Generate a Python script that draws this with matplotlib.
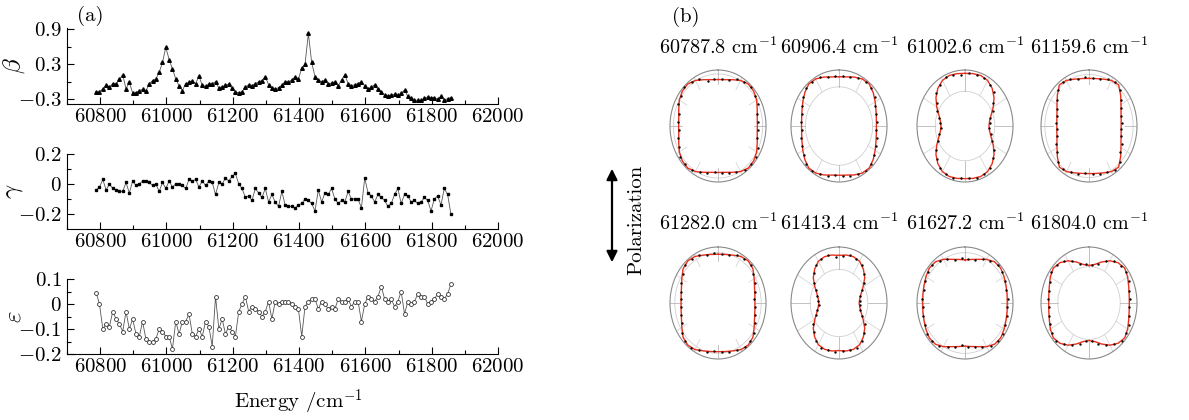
import numpy as np
import matplotlib
matplotlib.use("Agg")
import matplotlib.pyplot as plt
from matplotlib.patches import FancyArrowPatch

plt.rcParams['font.family'] = ['cmr10', 'DejaVu Serif']
plt.rcParams['mathtext.fontset'] = 'cm'
plt.rcParams['axes.formatter.use_mathtext'] = True

# ---- panel (a): anisotropy parameters vs energy ----
energy = [60788, 60798, 60808, 60818, 60828, 60838, 60848, 60858, 60868, 60878,
          60888, 60898, 60908, 60918, 60928, 60938, 60948, 60958, 60968, 60978,
          60988, 60998, 61008, 61018, 61028, 61038, 61048, 61058, 61068, 61078,
          61088, 61098, 61108, 61118, 61128, 61138, 61148, 61158, 61168, 61178,
          61188, 61198, 61208, 61218, 61228, 61238, 61248, 61258, 61268, 61278,
          61288, 61298, 61308, 61318, 61328, 61338, 61348, 61358, 61368, 61378,
          61388, 61398, 61408, 61418, 61428, 61438, 61448, 61458, 61468, 61478,
          61488, 61498, 61508, 61518, 61528, 61538, 61548, 61558, 61568, 61578,
          61588, 61598, 61608, 61618, 61628, 61638, 61648, 61658, 61668, 61678,
          61688, 61698, 61708, 61718, 61728, 61738, 61748, 61758, 61768, 61778,
          61788, 61798, 61808, 61818, 61828, 61838, 61848, 61858]

beta = [-0.18, -0.17, -0.12, -0.06, -0.09, -0.03, -0.04, 0.04, 0.12, -0.12,
        -0.01, -0.19, -0.19, -0.15, -0.13, -0.16, -0.03, 0.02, 0.05, 0.16,
        0.33, 0.59, 0.38, 0.22, 0.05, -0.07, -0.15, -0.03, -0.01, 0.01,
        -0.03, 0.10, -0.06, -0.08, -0.04, -0.03, 0.00, -0.11, -0.09, -0.06,
        -0.04, -0.11, -0.17, -0.19, -0.17, -0.09, -0.05, -0.07, -0.03, 0.00,
        0.02, 0.09, -0.05, -0.11, -0.13, -0.10, -0.06, 0.00, 0.00, 0.03,
        0.08, 0.05, 0.23, 0.30, 0.83, 0.33, 0.09, 0.03, 0.00, 0.03,
        -0.04, -0.02, 0.00, -0.07, 0.03, 0.12, -0.03, -0.07, -0.05, -0.03,
        0.00, -0.07, -0.13, -0.09, -0.05, -0.13, -0.17, -0.23, -0.24, -0.23,
        -0.21, -0.23, -0.20, -0.14, -0.25, -0.28, -0.31, -0.32, -0.32, -0.28,
        -0.26, -0.27, -0.27, -0.30, -0.25, -0.31, -0.29, -0.27]

gamma = [-0.04, -0.02, 0.03, -0.04, 0.00, -0.03, -0.04, -0.05, -0.05, 0.01,
         -0.06, 0.02, -0.01, 0.00, 0.02, 0.02, 0.01, -0.01, 0.00, -0.05,
         0.01, -0.03, 0.02, -0.02, 0.00, 0.00, -0.01, -0.03, 0.03, 0.02,
         0.03, -0.02, 0.02, -0.01, 0.02, 0.01, -0.07, 0.01, 0.00, 0.04,
         0.02, 0.05, 0.07, 0.00, -0.03, -0.09, -0.08, -0.11, -0.03, -0.06,
         -0.09, -0.03, -0.12, -0.07, -0.12, -0.15, -0.05, -0.14, -0.15, -0.15,
         -0.16, -0.14, -0.13, -0.10, -0.11, -0.13, -0.18, -0.04, -0.12, -0.06,
         -0.07, -0.03, -0.10, -0.13, -0.11, -0.12, -0.05, -0.10, -0.10, -0.10,
         -0.16, 0.04, -0.06, -0.08, -0.12, -0.07, -0.09, -0.11, -0.15, -0.13,
         -0.07, -0.03, -0.13, -0.07, -0.08, -0.12, -0.11, -0.13, -0.12, -0.09,
         -0.11, -0.18, -0.10, -0.08, -0.14, -0.03, -0.07, -0.20]

epsilon = [0.045, 0.00, -0.10, -0.08, -0.09, -0.03, -0.06, -0.08, -0.11, -0.03,
           -0.10, -0.06, -0.12, -0.13, -0.07, -0.14, -0.15, -0.15, -0.14, -0.10,
           -0.11, -0.13, -0.13, -0.18, -0.07, -0.12, -0.07, -0.07, -0.04, -0.12,
           -0.13, -0.10, -0.13, -0.07, -0.09, -0.17, 0.03, -0.10, -0.06, -0.12,
           -0.09, -0.11, -0.13, -0.03, 0.00, 0.03, -0.03, -0.01, -0.02, -0.03,
           -0.05, -0.03, 0.01, -0.06, 0.01, 0.00, 0.01, 0.01, 0.01, 0.00,
           -0.01, -0.02, -0.13, -0.01, 0.01, 0.02, 0.02, -0.02, 0.01, 0.00,
           -0.02, -0.01, -0.02, 0.02, 0.01, 0.01, 0.02, -0.01, 0.01, 0.01,
           -0.07, 0.00, 0.03, 0.02, 0.01, 0.03, 0.07, 0.02, 0.01, 0.02,
           -0.01, 0.01, 0.05, -0.04, 0.01, 0.00, 0.01, 0.04, 0.03, 0.03,
           0.00, 0.01, 0.02, 0.04, 0.03, 0.02, 0.04, 0.08]

# ---- panel (b): photoelectron angular distributions ----
panel_energy = ['60787.8', '60906.4', '61002.6', '61159.6',
                '61282.0', '61413.4', '61627.2', '61804.0']

# fitted curve, one quadrant, angle from polarization axis 0..90 deg (step 10)
fit_quadrant = [
    [0.83, 0.84, 0.88, 0.94, 0.98, 0.97, 0.93, 0.87, 0.83, 0.82],
    [0.88, 0.89, 0.93, 0.97, 0.98, 0.93, 0.87, 0.82, 0.79, 0.78],
    [0.94, 0.95, 0.96, 0.94, 0.88, 0.79, 0.68, 0.58, 0.52, 0.50],
    [0.85, 0.86, 0.89, 0.94, 0.96, 0.86, 0.77, 0.71, 0.68, 0.67],
    [0.87, 0.88, 0.91, 0.96, 0.98, 0.95, 0.87, 0.81, 0.78, 0.77],
    [0.85, 0.87, 0.88, 0.86, 0.79, 0.70, 0.58, 0.49, 0.44, 0.42],
    [0.77, 0.79, 0.83, 0.90, 0.96, 0.97, 0.94, 0.91, 0.89, 0.88],
    [0.67, 0.70, 0.78, 0.87, 0.94, 0.97, 0.93, 0.88, 0.85, 0.84],
]

# measured points at 5, 15, ..., 355 deg
dots = [
    [0.85, 0.84, 0.92, 0.95, 0.99, 0.94, 0.91, 0.84, 0.83,
     0.81, 0.86, 0.89, 0.96, 0.97, 0.95, 0.90, 0.87, 0.82,
     0.84, 0.87, 0.90, 0.97, 0.96, 0.96, 0.92, 0.85, 0.83,
     0.83, 0.84, 0.91, 0.94, 0.98, 0.95, 0.92, 0.85, 0.84],
    [0.90, 0.90, 0.96, 0.97, 0.96, 0.91, 0.84, 0.80, 0.79,
     0.77, 0.81, 0.85, 0.89, 0.96, 0.98, 0.94, 0.92, 0.87,
     0.89, 0.92, 0.94, 0.98, 0.95, 0.89, 0.85, 0.81, 0.78,
     0.79, 0.80, 0.83, 0.91, 0.95, 0.97, 0.95, 0.90, 0.90],
    [0.92, 0.95, 0.96, 0.90, 0.84, 0.72, 0.64, 0.55, 0.52,
     0.50, 0.56, 0.62, 0.74, 0.83, 0.92, 0.94, 0.96, 0.93,
     0.93, 0.96, 0.94, 0.92, 0.82, 0.74, 0.62, 0.56, 0.50,
     0.52, 0.54, 0.64, 0.72, 0.85, 0.90, 0.95, 0.94, 0.95],
    [0.87, 0.86, 0.92, 0.96, 0.90, 0.82, 0.73, 0.70, 0.68,
     0.66, 0.70, 0.75, 0.81, 0.92, 0.94, 0.91, 0.88, 0.84,
     0.86, 0.88, 0.90, 0.95, 0.91, 0.80, 0.75, 0.69, 0.66,
     0.68, 0.69, 0.74, 0.82, 0.90, 0.96, 0.92, 0.87, 0.86],
    [0.89, 0.88, 0.94, 0.96, 0.97, 0.90, 0.85, 0.79, 0.77,
     0.78, 0.80, 0.83, 0.92, 0.96, 0.98, 0.93, 0.90, 0.86,
     0.87, 0.91, 0.93, 0.97, 0.95, 0.92, 0.84, 0.80, 0.78,
     0.76, 0.79, 0.85, 0.90, 0.97, 0.96, 0.94, 0.89, 0.88],
    [0.83, 0.88, 0.87, 0.83, 0.75, 0.63, 0.54, 0.47, 0.43,
     0.42, 0.47, 0.52, 0.65, 0.74, 0.83, 0.88, 0.87, 0.88,
     0.86, 0.87, 0.88, 0.82, 0.75, 0.65, 0.53, 0.46, 0.44,
     0.43, 0.46, 0.54, 0.63, 0.74, 0.82, 0.86, 0.89, 0.84],
    [0.80, 0.80, 0.87, 0.92, 0.97, 0.95, 0.93, 0.89, 0.89,
     0.88, 0.91, 0.92, 0.96, 0.96, 0.93, 0.86, 0.82, 0.76,
     0.78, 0.82, 0.86, 0.94, 0.96, 0.96, 0.92, 0.90, 0.87,
     0.89, 0.89, 0.93, 0.95, 0.97, 0.92, 0.87, 0.80, 0.79],
    [0.70, 0.73, 0.83, 0.91, 0.95, 0.96, 0.90, 0.86, 0.85,
     0.84, 0.87, 0.90, 0.94, 0.96, 0.90, 0.82, 0.75, 0.68,
     0.68, 0.75, 0.82, 0.90, 0.96, 0.94, 0.91, 0.87, 0.84,
     0.85, 0.86, 0.91, 0.95, 0.94, 0.91, 0.83, 0.73, 0.69],
]

ring_r = [0.93, 0.70, 0.62, 0.92, 0.90, 0.60, 0.90, 0.65]

W, H = 1189, 420


def px_box(x0, y0, x1, y1):
    return [x0 / W, 1 - y1 / H, (x1 - x0) / W, (y1 - y0) / H]


fig = plt.figure(figsize=(W / 100, H / 100), dpi=100)

left_panels = [
    (beta, r'$\beta$', (67, 28, 498, 104), (-0.38, 0.92),
     [-0.3, 0.3, 0.9], ['$-0.3$', '$0.3$', '$0.9$'], [0.0, 0.6],
     dict(marker='^', ms=2.6, mfc='k', mec='k')),
    (gamma, r'$\gamma$', (67, 154, 498, 229), (-0.3, 0.2),
     [-0.2, 0.0, 0.2], ['$-0.2$', '$0$', '$0.2$'], [-0.1, 0.1],
     dict(marker='s', ms=2.0, mfc='k', mec='k')),
    (epsilon, r'$\varepsilon$', (67, 279, 498, 354), (-0.2, 0.1),
     [-0.2, -0.1, 0.0, 0.1], ['$-0.2$', '$-0.1$', '$0$', '$0.1$'], [-0.15, -0.05, 0.05],
     dict(marker='o', ms=2.8, mfc='white', mec='#333333', mew=0.6)),
]

xticks = [60800, 61000, 61200, 61400, 61600, 61800, 62000]
for vals, lab, box, ylim, yt, ytl, ymin, mstyle in left_panels:
    ax = fig.add_axes(px_box(*box))
    ax.plot(energy, vals, color='#555555', lw=0.6, **mstyle)
    ax.set_xlim(60700, 62000)
    ax.set_ylim(*ylim)
    ax.set_xticks(xticks, [f'${t}$' for t in xticks])
    ax.set_xticks(list(range(60700, 62000, 200)), minor=True)
    ax.set_yticks(yt, ytl)
    ax.set_yticks(ymin, minor=True)
    ax.spines['top'].set_visible(False)
    ax.spines['right'].set_visible(False)
    ax.tick_params(which='both', direction='in', labelsize=15, width=0.8)
    ax.tick_params(which='major', length=5)
    ax.tick_params(which='minor', length=3)
    ax.tick_params(axis='y', pad=4)
    ax.tick_params(axis='x', pad=3)
    ax.set_ylabel(lab, fontsize=18, rotation=90, va='center')
    ax.yaxis.set_label_coords(-0.122, 0.5)

fig.text(90 / W, 1 - 16 / H, '(a)', ha='center', va='center', fontsize=15)
fig.text(298 / W, 1 - 402 / H, r'Energy /cm$^{-1}$', ha='center', va='center', fontsize=15)

# polar panels
col_cx = [718, 839, 965, 1089]
row_cy = [126, 303]
title_y = [47, 223]
theta_curve = np.deg2rad(np.arange(0, 361, 10))
theta_dots = np.deg2rad(np.arange(5, 360, 10))
theta_ring = np.deg2rad(np.arange(0, 361, 2))

for i in range(8):
    cx, cy = col_cx[i % 4], row_cy[i // 4]
    ax = fig.add_axes(px_box(cx - 48, cy - 56, cx + 48, cy + 56), projection='polar')
    ax.set_aspect('auto')
    ax.set_theta_zero_location('N')
    ax.set_ylim(0, 1)
    ax.grid(False)
    ax.set_xticks([])
    ax.set_yticks([])
    ax.spines['polar'].set_color('#8a8a8a')
    ax.spines['polar'].set_linewidth(0.8)

    ax.plot(theta_ring, np.full(theta_ring.shape, ring_r[i]), color='#d0d0d0', lw=0.6)
    start = min(ring_r[i], 0.75)
    for a in range(0, 360, 30):
        c = '#b8b8b8' if a % 90 == 0 else '#d6d6d6'
        ax.plot([np.deg2rad(a)] * 2, [start, 1], color=c, lw=0.6)

    q = fit_quadrant[i]
    r_full = q + q[-2::-1] + q[1:] + q[-2::-1]
    ax.plot(theta_curve, r_full, color='#e8301c', lw=1.0, zorder=3)
    ax.plot(theta_dots, dots[i], 'o', ms=1.7, mew=0, color='k', zorder=4)

    fig.text(cx / W, 1 - title_y[i // 4] / H, f'{panel_energy[i]} cm$^{{-1}}$',
             ha='center', va='center', fontsize=14.5)

fig.text(686 / W, 1 - 17 / H, '(b)', ha='center', va='center', fontsize=15)

arrow = FancyArrowPatch((612 / W, 1 - 166 / H), (612 / W, 1 - 265 / H),
                        transform=fig.transFigure, arrowstyle='<|-|>',
                        mutation_scale=16, lw=1.6, color='k')
fig.add_artist(arrow)
fig.text(636 / W, 1 - 220 / H, 'Polarization', rotation=90,
         ha='center', va='center', fontsize=15)

fig.savefig('out.png', dpi=100)
